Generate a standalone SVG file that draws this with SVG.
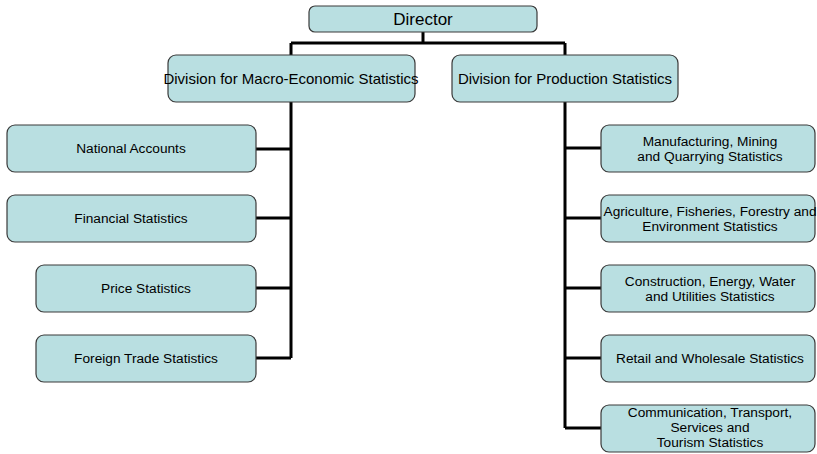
<svg xmlns="http://www.w3.org/2000/svg" width="817" height="454" viewBox="0 0 817 454">
<style>
.box{fill:#B9DFE1;stroke:#3a3a3a;stroke-width:1.2}
.t{font-family:"Liberation Sans",Arial,sans-serif;fill:#000;text-anchor:middle}
.s{font-size:13.7px}
.m{font-size:15px}
.l{font-size:17px}
.c{fill:none;stroke:#000;stroke-width:3}
</style>
<rect width="817" height="454" fill="#fff"/>
<g id="connectors">
<path class="c" d="M423 32V43M291 43H565M291 43V55M565 43V55"/>
<path class="c" d="M291 102V358M256 149H291M256 218H291M256 288H291M256 358H291"/>
<path class="c" d="M565 102V428M565 148H601M565 218H601M565 288H601M565 358H601M565 428H601"/>
</g>
<g id="director"><rect class="box" x="309" y="6" width="228" height="26" rx="6"/><text class="t l" x="423" y="25">Director</text></g>
<g id="macro"><rect class="box" x="168" y="55" width="247" height="47" rx="8"/><text class="t m" x="291" y="84">Division for Macro-Economic Statistics</text></g>
<g id="production"><rect class="box" x="452" y="55" width="226" height="47" rx="8"/><text class="t m" x="565" y="84">Division for Production Statistics</text></g>
<g id="national"><rect class="box" x="7" y="125" width="249" height="47" rx="8"/><text class="t s" x="131" y="153">National Accounts</text></g>
<g id="financial"><rect class="box" x="7" y="195" width="249" height="47" rx="8"/><text class="t s" x="131" y="223">Financial Statistics</text></g>
<g id="price"><rect class="box" x="36" y="265" width="220" height="47" rx="8"/><text class="t s" x="146" y="293">Price Statistics</text></g>
<g id="foreign"><rect class="box" x="36" y="335" width="220" height="47" rx="8"/><text class="t s" x="146" y="363">Foreign Trade Statistics</text></g>
<g id="manufacturing"><rect class="box" x="601" y="125" width="214" height="47" rx="8"/><text class="t s" x="710" y="146">Manufacturing, Mining</text><text class="t s" x="710" y="161">and Quarrying Statistics</text></g>
<g id="agriculture"><rect class="box" x="601" y="195" width="214" height="47" rx="8"/><text class="t s" x="710" y="216">Agriculture, Fisheries, Forestry and</text><text class="t s" x="710" y="231">Environment Statistics</text></g>
<g id="construction"><rect class="box" x="601" y="265" width="214" height="47" rx="8"/><text class="t s" x="710" y="286">Construction, Energy, Water</text><text class="t s" x="710" y="301">and Utilities Statistics</text></g>
<g id="retail"><rect class="box" x="601" y="335" width="214" height="47" rx="8"/><text class="t s" x="710" y="363">Retail and Wholesale Statistics</text></g>
<g id="communication"><rect class="box" x="601" y="405" width="214" height="47" rx="8"/><text class="t s" x="710" y="417">Communication, Transport,</text><text class="t s" x="710" y="432">Services and</text><text class="t s" x="710" y="447">Tourism Statistics</text></g>
</svg>
